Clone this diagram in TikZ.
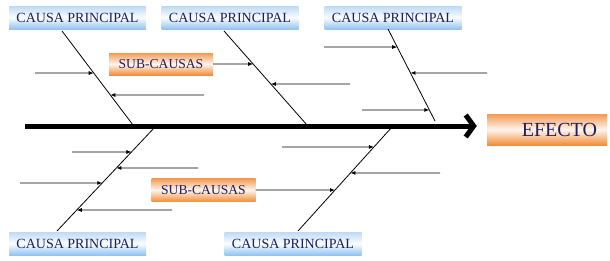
\documentclass[tikz,border=0pt]{standalone}
\usepackage{fontspec}
\setmainfont{Liberation Serif}
\usetikzlibrary{arrows.meta, positioning, calc}

\definecolor{navy}{HTML}{1F1F5C}
\definecolor{blueA}{HTML}{BCDAF5}
\definecolor{blueB}{HTML}{92C4F0}
\definecolor{orangeA}{HTML}{F49A52}
\definecolor{orangeB}{HTML}{F28D38}

\begin{document}
\begin{tikzpicture}[x=1pt, y=-1pt]
    \tikzstyle{causebox}=[rectangle, minimum width=137pt, minimum height=23pt, inner sep=0pt,
        top color=blueA, bottom color=blueB, middle color=white!95!blueA,
        text=navy, font=\fontsize{14}{16}\selectfont]
    \tikzstyle{subbox}=[rectangle, minimum width=104pt, minimum height=22pt, inner sep=0pt,
        top color=orangeA, bottom color=orangeB, middle color=white!90!orangeA,
        text=navy, font=\fontsize{13.6}{15}\selectfont]
    \tikzstyle{effectbox}=[rectangle, minimum height=31pt, text width=100pt, align=right,
        inner xsep=10pt, inner ysep=0pt,
        top color=orangeA, bottom color=orangeB, middle color=white!90!orangeA,
        text=navy, font=\fontsize{20}{22}\selectfont]
    \tikzstyle{bone}=[line width=0.8pt]
    \tikzstyle{subarrow}=[line width=0.8pt, -{Latex[length=5pt, width=4pt]}]
    \tikzstyle{spine}=[line width=5pt, -{Straight Barb[length=8pt, width=22pt]}]

    \useasboundingbox (0,0) rectangle (610,260);

    % cause boxes
    \node[causebox] (cause1) at (77.5,17.5) {CAUSA PRINCIPAL};
    \node[causebox] (cause2) at (230,17.5) {CAUSA PRINCIPAL};
    \node[causebox] (cause3) at (393,17.5) {CAUSA PRINCIPAL};
    \node[causebox] (cause4) at (77.5,243.5) {CAUSA PRINCIPAL};
    \node[causebox] (cause5) at (293,243.5) {CAUSA PRINCIPAL};

    \node[subbox] (sub1) at (161,64) {SUB-CAUSAS};
    \node[subbox, minimum height=23pt] (sub2) at (203.5,190) {SUB-CAUSAS};

    \node[effectbox] (effect) at (547,129.5) {EFECTO};

    % spine
    \coordinate (tail) at (25,126);
    \draw[spine] (tail) -- (tail -| effect.west) [shorten >=10pt];

    % bones
    \coordinate (bone1a) at (62,31);   \coordinate (bone1b) at (133,125);
    \coordinate (bone2a) at (224,31);  \coordinate (bone2b) at (307,125);
    \coordinate (bone3a) at (388,29);  \coordinate (bone3b) at (435,121);
    \coordinate (bone4a) at (155,127); \coordinate (bone4b) at (57,231);
    \coordinate (bone5a) at (392,127); \coordinate (bone5b) at (298,231);
    \foreach \i in {1,...,5}
        \draw[bone] (bone\i a) -- (bone\i b);

    % sub-causes
    \coordinate (s1a) at (35,73);
    \coordinate (s1b) at (204,95);
    \draw[subarrow] (s1a) -- ($(bone1a)!0.447!(bone1b)$);
    \draw[subarrow] (s1b) -- ($(bone1a)!0.681!(bone1b)$);

    \coordinate (s2a) at (350,84);
    \draw[subarrow] (sub1.east) -- ($(bone2a)!0.351!(bone2b)$);
    \draw[subarrow] (s2a) -- ($(bone2a)!0.564!(bone2b)$);

    \coordinate (s3a) at (324,47);
    \coordinate (s3b) at (487,73);
    \coordinate (s3c) at (362,110);
    \draw[subarrow] (s3a) -- ($(bone3a)!0.196!(bone3b)$);
    \draw[subarrow] (s3b) -- ($(bone3a)!0.478!(bone3b)$);
    \draw[subarrow] (s3c) -- ($(bone3a)!0.880!(bone3b)$);

    \coordinate (s4a) at (72,152);
    \coordinate (s4b) at (198,168);
    \coordinate (s4c) at (20,183);
    \coordinate (s4d) at (172,210);
    \draw[subarrow] (s4a) -- ($(bone4a)!0.240!(bone4b)$);
    \draw[subarrow] (s4b) -- ($(bone4a)!0.394!(bone4b)$);
    \draw[subarrow] (s4c) -- ($(bone4a)!0.538!(bone4b)$);
    \draw[subarrow] (s4d) -- ($(bone4a)!0.798!(bone4b)$);

    \coordinate (s5a) at (282,147);
    \coordinate (s5b) at (440,173);
    \draw[subarrow] (s5a) -- ($(bone5a)!0.192!(bone5b)$);
    \draw[subarrow] (s5b) -- ($(bone5a)!0.442!(bone5b)$);
    \draw[subarrow] (sub2.east) -- ($(bone5a)!0.606!(bone5b)$);
\end{tikzpicture}
\end{document}
